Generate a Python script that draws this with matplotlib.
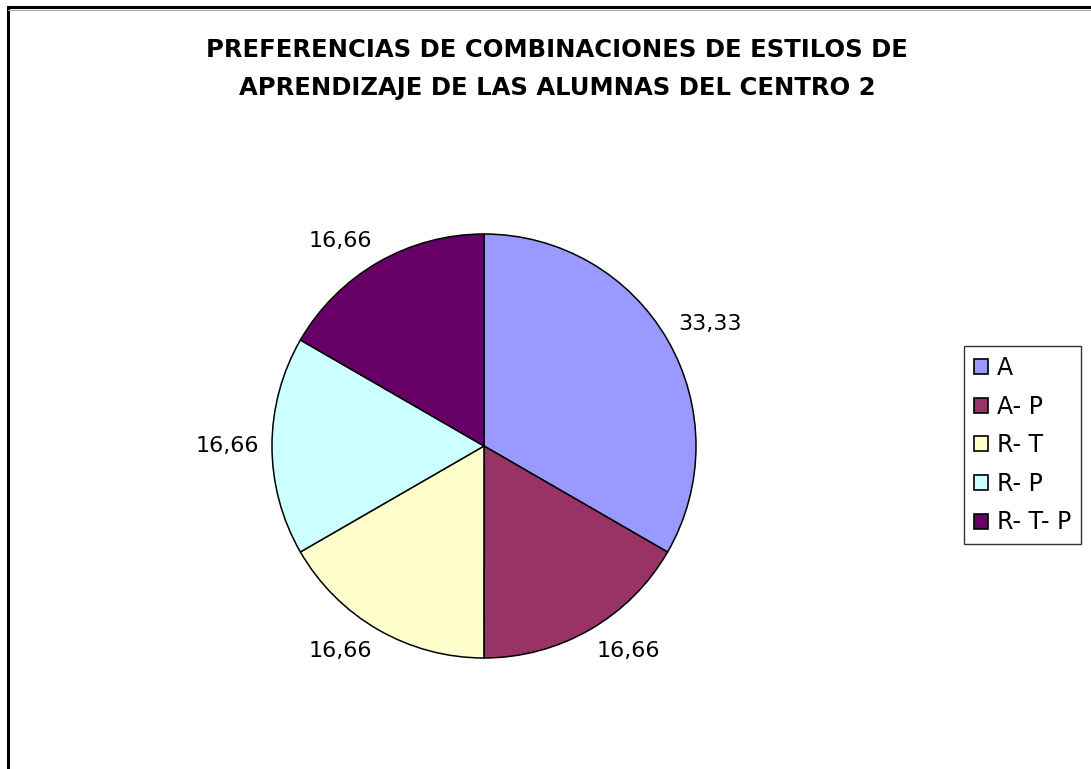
import numpy as np
import matplotlib
matplotlib.use("Agg")
import matplotlib.pyplot as plt
from matplotlib.patches import Rectangle, Patch

# Data
categories = ["A", "A- P", "R- T", "R- P", "R- T- P"]
values = [33.33, 16.66, 16.66, 16.66, 16.66]
value_labels = ["33,33", "16,66", "16,66", "16,66", "16,66"]
colors = ["#9999FF", "#993366", "#FFFFCC", "#CCFFFF", "#660066"]
title_lines = ["PREFERENCIAS DE COMBINACIONES DE ESTILOS DE",
               "APRENDIZAJE DE LAS ALUMNAS DEL CENTRO 2"]

W, H = 1091, 769
plt.rcParams['font.family'] = ['DejaVu Sans']
fig = plt.figure(figsize=(W / 100, H / 100), dpi=100)
fig.patch.set_facecolor("white")

# Chart border (open on the right and bottom)
fig.add_artist(Rectangle((7.5 / W, -0.1), 1.2, 1.1 - 7.5 / H,
                         transform=fig.transFigure, fill=False,
                         edgecolor="black", linewidth=2.2, clip_on=False))
fig.add_artist(plt.Line2D([7.5 / W, 1.0], [1 - 10 / H, 1 - 10 / H],
                          transform=fig.transFigure, color="#aaaaaa",
                          linewidth=0.8))

# Pie axes: centre (484, 446) px, radius 212 px
cx, cy, R, half = 484, 446, 212, 300
ax = fig.add_axes([(cx - half) / W, (H - cy - half) / H, 2 * half / W, 2 * half / H])
wedges, _ = ax.pie(values, colors=colors, startangle=90, counterclock=False,
                   wedgeprops=dict(edgecolor="black", linewidth=1.1))
lim = half / R
ax.set_xlim(-lim, lim)
ax.set_ylim(-lim, lim)
ax.set_aspect("auto")
ax.axis("off")

# Value labels just outside each wedge, anchored on the bisector
for w, txt in zip(wedges, value_labels):
    ang = np.deg2rad((w.theta1 + w.theta2) / 2)
    d = w.r * 1.06
    x, y = w.center[0] + d * np.cos(ang), w.center[1] + d * np.sin(ang)
    ha = "left" if np.cos(ang) > 0.01 else ("right" if np.cos(ang) < -0.01 else "center")
    s = np.sin(ang)
    va = "center" if abs(s) < 0.3 else ("bottom" if s > 0 else "top")
    ax.text(x, y, txt, ha=ha, va=va, fontsize=16, color="black")

# Title
for i, line in enumerate(title_lines):
    fig.text(557 / W, 1 - (50 + 38 * i) / H, line, ha="center", va="center",
             fontsize=17.5, fontweight="bold")

# Legend
handles = [Patch(facecolor=c, edgecolor="black", linewidth=1.2) for c in colors]
leg = fig.legend(handles, categories, loc="upper left",
                 bbox_to_anchor=(964 / W, 1 - 346 / H),
                 fontsize=17, handlelength=0.6, handleheight=0.6,
                 handletextpad=0.38, labelspacing=0.62, borderpad=0.42,
                 borderaxespad=0, fancybox=False, framealpha=1)
leg.get_frame().set_edgecolor("#333333")
leg.get_frame().set_linewidth(1.0)

fig.savefig("out.png", dpi=100)
